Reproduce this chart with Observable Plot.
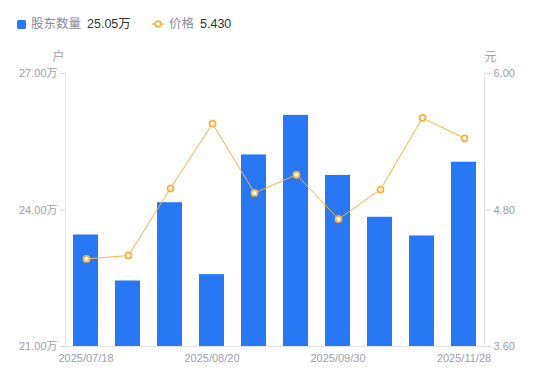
<!DOCTYPE html>
<html><head><meta charset="utf-8">
<script src="https://cdn.jsdelivr.net/npm/d3@7"></script>
<script src="https://cdn.jsdelivr.net/npm/@observablehq/plot@0.6"></script>
<style>
body{margin:0;background:#fff;font-family:"Liberation Sans","Noto Sans CJK SC",sans-serif;}
#wrap{position:relative;width:550px;height:381px;overflow:hidden;}
#legend{position:absolute;left:0;top:0;width:550px;height:48px;font-size:12.5px;}
.li{position:absolute;top:16px;height:16px;line-height:16px;white-space:nowrap;}
.lab{color:#8a8a99;}
.val{color:#333;margin-left:6px;}
#c1,#c2{position:absolute;left:0;top:48px;}
</style></head><body>
<div id="wrap">
  <div id="legend">
    <div class="li" style="left:17px;top:20px;width:9px;height:9px;background:#2878F5;border-radius:1.5px;"></div>
    <div class="li" style="left:31px;"><span class="lab">股东数量</span><span class="val">25.05万</span></div>
    <svg class="li" style="left:151px;top:18px;" width="14" height="12"><line x1="1" x2="13" y1="6" y2="6" stroke="#FAB03C" stroke-width="1.5"/><circle cx="7" cy="6" r="2.8" fill="#fff" stroke="#FAB03C" stroke-width="1.8"/></svg>
    <div class="li" style="left:169px;"><span class="lab">价格</span><span class="val">5.430</span></div>
  </div>
  <div id="c1"></div>
  <div id="c2"></div>
</div>
<script>
const dates = ["2025/07/18","2025/07/31","2025/08/10","2025/08/20","2025/08/31","2025/09/19","2025/09/30","2025/10/31","2025/11/10","2025/11/28"];
const holders = [23.45,22.44,24.16,22.58,25.21,26.08,24.76,23.84,23.43,25.05];
const prices = [4.37,4.40,4.99,5.56,4.95,5.11,4.72,4.98,5.61,5.43];
const leftTicks = [21,24,27];
const rightTicks = [3.6,4.8,6.0];
const xTicks = ["2025/07/18","2025/08/20","2025/09/30","2025/11/28"];

const data = dates.map((d,i)=>({date:d, holders:holders[i], price:prices[i]}));

const W=550,H=333,mt=25,mb=35,ml=65,mr=65;
const axisGray="#e3e3ea", tickGray="#d5d5dd", textGray="#9d9dab";
const ff='"Liberation Sans","Noto Sans CJK SC",sans-serif';

const p1 = Plot.plot({
  width:W,height:H,marginTop:mt,marginBottom:mb,marginLeft:ml,marginRight:mr,
  style:{fontFamily:ff,fontSize:"11px",background:"transparent"},
  x:{domain:dates,padding:0.4,paddingOuter:0.2,label:null},
  y:{domain:[21,27],label:null},
  marks:[
    Plot.barY(data,{x:"date",y1:21,y2:"holders",fill:"#2878F5"}),
    Plot.ruleY([21],{stroke:axisGray}),
    Plot.axisY({ticks:leftTicks,tickSize:5,tickPadding:3,stroke:tickGray,fill:textGray,label:null,
      tickFormat:d=>d.toFixed(2)+"万"}),
    Plot.axisX({ticks:xTicks,tickSize:0,tickPadding:8,fill:textGray,label:null}),
    Plot.text(["户"],{frameAnchor:"top-left",dx:-7,dy:-16,lineAnchor:"middle",textAnchor:"middle",fill:textGray,fontSize:12})
  ]
});
document.getElementById("c1").appendChild(p1);

const p2 = Plot.plot({
  width:W,height:H,marginTop:mt,marginBottom:mb,marginLeft:ml,marginRight:mr,
  style:{fontFamily:ff,fontSize:"11px",background:"transparent"},
  x:{domain:dates,padding:0.4,paddingOuter:0.2,label:null,axis:null},
  y:{domain:[3.6,6.0],label:null,axis:null},
  marks:[
    Plot.axisY({anchor:"right",ticks:rightTicks,tickSize:5,tickPadding:3,stroke:tickGray,fill:textGray,label:null,
      tickFormat:d=>d.toFixed(2)}),
    Plot.line(data,{x:"date",y:"price",stroke:"#FAB03C",strokeWidth:1}),
    Plot.dot(data,{x:"date",y:"price",r:3,fill:"#fff",stroke:"#FAB03C",strokeWidth:1.8}),
    Plot.text(["元"],{frameAnchor:"top-right",dx:5,dy:-16,lineAnchor:"middle",textAnchor:"middle",fill:textGray,fontSize:12})
  ]
});
document.getElementById("c2").appendChild(p2);

// axis lines along the frame edges
function edge(svg, x){
  d3.select(svg).insert("line",":first-child")
    .attr("x1",x).attr("x2",x).attr("y1",mt).attr("y2",H-mb)
    .attr("stroke",axisGray).attr("stroke-width",1);
}
edge(p1, ml+0.5);
edge(p2, W-mr-0.5);
</script>
</body></html>
